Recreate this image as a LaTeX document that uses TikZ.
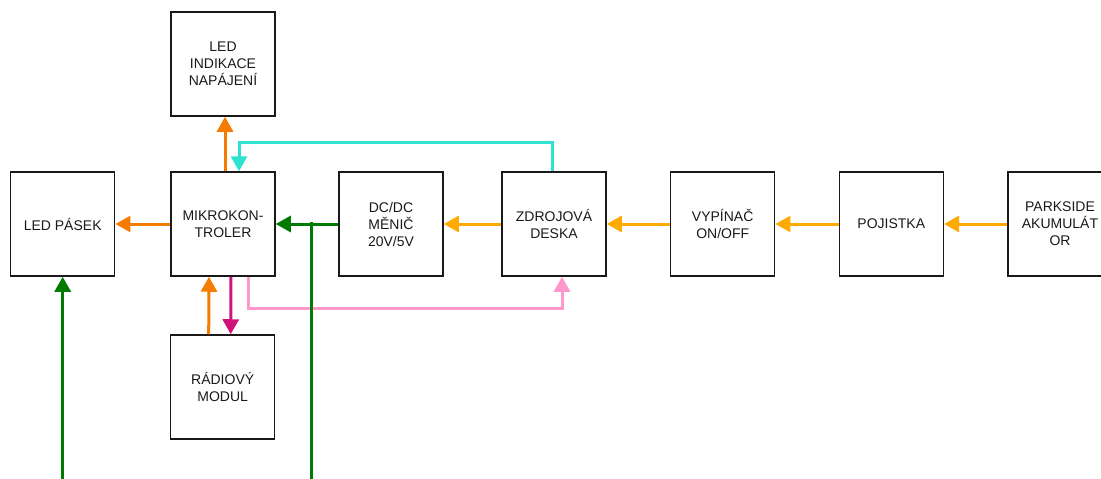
\documentclass[tikz,border=0pt]{standalone}
\usepackage{fontspec}
\setmainfont{Liberation Sans}
\usetikzlibrary{arrows.meta,calc}
\definecolor{corange}{HTML}{F57C00}
\definecolor{cyellow}{HTML}{FFAA00}
\definecolor{ccyan}{HTML}{2DE3CF}
\definecolor{cmag}{HTML}{D0137A}
\definecolor{cpink}{HTML}{FF99CC}
\definecolor{cgreen}{HTML}{007A00}
\begin{document}
\begin{tikzpicture}[x=1pt,y=-1pt,
  blockbox/.style={draw=black!90,line width=1.5pt,minimum width=104pt,minimum height=104pt,
    inner sep=0pt,align=center,font=\fontsize{14}{17}\selectfont,text=black!90},
  conn/.style={line width=3pt,-{Triangle[width=16pt,length=15pt]}},
  lineonly/.style={line width=3pt}]
\useasboundingbox (0,0) rectangle (1101,479);
\node[blockbox] (ledind) at (223,64) {LED\\INDIKACE\\NAPÁJENÍ};
\node[blockbox] (mikro) at (223,224) {MIKROKON-\\TROLER};
\node[blockbox] (ledpas) at (62.7,224) {LED PÁSEK};
\node[blockbox] (dcdc) at (391,224) {DC/DC\\MĚNIČ\\20V/5V};
\node[blockbox] (zdroj) at (554,224) {ZDROJOVÁ\\DESKA};
\node[blockbox] (vyp) at (722.7,224) {VYPÍNAČ\\ON/OFF};
\node[blockbox] (poj) at (891.3,224) {POJISTKA};
\node[blockbox] (park) at (1060,224) {PARKSIDE\\AKUMULÁT\\OR};
\node[blockbox] (radio) at (222.7,387) {RÁDIOVÝ\\MODUL};
\coordinate (b1) at (62.7,479);
\coordinate (b2) at (311.7,479);
% orange
\draw[conn,corange] ([xshift=2pt]mikro.north) -- ([xshift=2pt]ledind.south);
\draw[conn,corange] (mikro.west) -- (ledpas.east);
\draw[conn,corange] ([xshift=-14pt]radio.north) -- ([xshift=-14pt]mikro.south);
% cyan
\draw[conn,ccyan] ([xshift=-2pt]zdroj.north) |- ([xshift=16pt,yshift=29pt]mikro.north) -- ([xshift=16pt]mikro.north);
% magenta
\draw[conn,cmag] ([xshift=8pt]mikro.south) -- ([xshift=8pt]radio.north);
% pink
\draw[conn,cpink] ([xshift=25pt]mikro.south) -- ++(0,32) -| ([xshift=8pt]zdroj.south);
% green
\draw[conn,cgreen] (dcdc.west) -- (mikro.east);
\draw[lineonly,cgreen] (b2) -- ([yshift=2pt]b2 |- mikro.east);
\draw[conn,cgreen] (b1) -- (ledpas.south);
% yellow chain
\draw[conn,cyellow] (zdroj.west) -- (dcdc.east);
\draw[conn,cyellow] (vyp.west) -- (zdroj.east);
\draw[conn,cyellow] (poj.west) -- (vyp.east);
\draw[conn,cyellow] (park.west) -- (poj.east);
\end{tikzpicture}
\end{document}
